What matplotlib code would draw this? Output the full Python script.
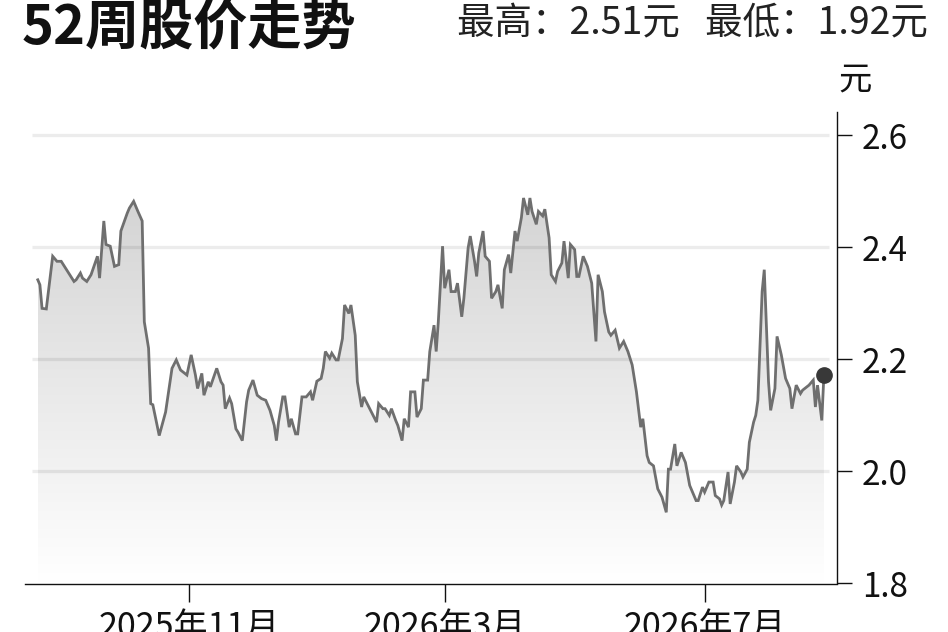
import matplotlib
matplotlib.use("Agg")
import matplotlib.pyplot as plt
import matplotlib.dates as mdates
import numpy as np
import pandas as pd
from matplotlib.colors import LinearSegmentedColormap

# ---------------- data ----------------
dates = [
    "2025-08-22", "2025-08-23", "2025-08-24", "2025-08-26", "2025-08-29", "2025-08-31",
    "2025-09-02", "2025-09-04", "2025-09-08", "2025-09-09", "2025-09-11", "2025-09-12",
    "2025-09-14", "2025-09-16", "2025-09-19", "2025-09-20", "2025-09-22", "2025-09-23",
    "2025-09-25", "2025-09-27", "2025-09-29", "2025-09-30",
    "2025-10-03", "2025-10-04", "2025-10-06", "2025-10-08", "2025-10-10", "2025-10-11",
    "2025-10-13", "2025-10-14", "2025-10-15", "2025-10-18", "2025-10-21", "2025-10-24",
    "2025-10-26", "2025-10-28", "2025-10-31",
    "2025-11-02", "2025-11-04", "2025-11-05", "2025-11-07", "2025-11-08", "2025-11-10",
    "2025-11-11", "2025-11-14", "2025-11-16", "2025-11-17", "2025-11-18", "2025-11-20",
    "2025-11-21", "2025-11-23", "2025-11-24", "2025-11-26", "2025-11-28", "2025-11-29",
    "2025-12-01", "2025-12-03", "2025-12-05", "2025-12-07", "2025-12-09", "2025-12-11",
    "2025-12-12", "2025-12-13", "2025-12-15", "2025-12-16", "2025-12-18", "2025-12-19",
    "2025-12-21", "2025-12-22", "2025-12-24", "2025-12-26", "2025-12-28", "2025-12-29",
    "2025-12-31",
    "2026-01-02", "2026-01-03", "2026-01-04", "2026-01-06", "2026-01-07", "2026-01-09",
    "2026-01-10", "2026-01-12", "2026-01-13", "2026-01-15", "2026-01-16", "2026-01-18",
    "2026-01-19", "2026-01-21", "2026-01-22", "2026-01-24", "2026-01-26", "2026-01-28",
    "2026-01-29", "2026-01-31",
    "2026-02-01", "2026-02-03", "2026-02-04", "2026-02-06", "2026-02-07", "2026-02-09",
    "2026-02-10", "2026-02-12", "2026-02-13", "2026-02-15", "2026-02-16", "2026-02-18",
    "2026-02-19", "2026-02-21", "2026-02-22", "2026-02-24", "2026-02-25", "2026-02-26",
    "2026-02-28",
    "2026-03-01", "2026-03-03", "2026-03-04", "2026-03-06", "2026-03-07", "2026-03-09",
    "2026-03-10", "2026-03-12", "2026-03-13", "2026-03-15", "2026-03-16", "2026-03-17",
    "2026-03-19", "2026-03-20", "2026-03-22", "2026-03-23", "2026-03-25", "2026-03-26",
    "2026-03-28", "2026-03-29", "2026-03-31",
    "2026-04-01", "2026-04-03", "2026-04-04", "2026-04-06", "2026-04-07", "2026-04-09",
    "2026-04-10", "2026-04-11", "2026-04-13", "2026-04-14", "2026-04-16", "2026-04-17",
    "2026-04-19", "2026-04-20", "2026-04-22", "2026-04-23", "2026-04-25", "2026-04-26",
    "2026-04-28", "2026-04-29",
    "2026-05-01", "2026-05-02", "2026-05-03", "2026-05-05", "2026-05-07", "2026-05-09",
    "2026-05-11", "2026-05-12", "2026-05-14", "2026-05-15", "2026-05-17", "2026-05-18",
    "2026-05-20", "2026-05-22", "2026-05-24", "2026-05-26", "2026-05-28", "2026-05-30",
    "2026-06-01", "2026-06-02", "2026-06-04", "2026-06-05", "2026-06-07", "2026-06-09",
    "2026-06-11", "2026-06-13", "2026-06-14", "2026-06-15", "2026-06-17", "2026-06-18",
    "2026-06-20", "2026-06-22", "2026-06-24", "2026-06-27", "2026-06-28", "2026-06-30",
    "2026-07-01", "2026-07-03", "2026-07-05", "2026-07-06", "2026-07-08", "2026-07-09",
    "2026-07-10", "2026-07-12", "2026-07-13", "2026-07-15", "2026-07-16", "2026-07-18",
    "2026-07-19", "2026-07-21", "2026-07-22", "2026-07-24", "2026-07-25", "2026-07-26",
    "2026-07-28", "2026-07-29", "2026-07-31",
    "2026-08-01", "2026-08-03", "2026-08-04", "2026-08-06", "2026-08-08", "2026-08-10",
    "2026-08-11", "2026-08-13", "2026-08-15", "2026-08-16", "2026-08-18", "2026-08-19",
    "2026-08-21", "2026-08-22", "2026-08-23", "2026-08-25", "2026-08-26",
]

prices = [
    2.342, 2.333, 2.291, 2.290, 2.384, 2.375,
    2.375, 2.363, 2.339, 2.342, 2.354, 2.345,
    2.339, 2.351, 2.384, 2.345, 2.447, 2.405,
    2.402, 2.366, 2.369, 2.429,
    2.461, 2.470, 2.482, 2.464, 2.447, 2.267,
    2.220, 2.121, 2.119, 2.064, 2.106, 2.184,
    2.199, 2.181, 2.172,
    2.208, 2.172, 2.148, 2.175, 2.136, 2.160,
    2.151, 2.184, 2.160, 2.154, 2.112, 2.131,
    2.121, 2.076, 2.070, 2.055, 2.124, 2.145,
    2.163, 2.136, 2.130, 2.127, 2.109, 2.082,
    2.055, 2.088, 2.133, 2.133, 2.079, 2.094,
    2.067, 2.067, 2.133, 2.133, 2.142, 2.127,
    2.161,
    2.166, 2.184, 2.214, 2.202, 2.211, 2.199,
    2.199, 2.237, 2.297, 2.282, 2.297, 2.243,
    2.160, 2.115, 2.133, 2.118, 2.103, 2.088,
    2.121, 2.112,
    2.112, 2.100, 2.112, 2.091, 2.082, 2.055,
    2.094, 2.079, 2.142, 2.142, 2.097, 2.112,
    2.163, 2.163, 2.214, 2.261, 2.214, 2.267,
    2.402,
    2.327, 2.360, 2.321, 2.321, 2.336, 2.276,
    2.309, 2.399, 2.420, 2.375, 2.348, 2.390,
    2.429, 2.384, 2.375, 2.309, 2.321, 2.333,
    2.291, 2.360, 2.387,
    2.354, 2.429, 2.411, 2.453, 2.488, 2.458,
    2.488, 2.464, 2.441, 2.464, 2.456, 2.468,
    2.417, 2.351, 2.339, 2.357, 2.372, 2.411,
    2.345, 2.405,
    2.396, 2.348, 2.348, 2.384, 2.366, 2.336,
    2.232, 2.351, 2.321, 2.285, 2.249, 2.243,
    2.252, 2.220, 2.232, 2.214, 2.190, 2.142,
    2.079, 2.094, 2.028, 2.016, 2.010, 1.969,
    1.954, 1.927, 2.004, 2.004, 2.049, 2.010,
    2.034, 2.016, 1.975, 1.948, 1.948, 1.972,
    1.963, 1.981, 1.981, 1.957, 1.951, 1.940,
    1.948, 1.999, 1.942, 1.981, 2.010, 1.999,
    1.990, 2.004, 2.052, 2.088, 2.100, 2.127,
    2.321, 2.360, 2.160,
    2.109, 2.148, 2.241, 2.208, 2.166, 2.148,
    2.112, 2.154, 2.139, 2.145, 2.151, 2.154,
    2.163, 2.115, 2.154, 2.091, 2.172,
]

tick_dates = ["2025-11-01", "2026-03-01", "2026-07-01"]
tick_labels = ["2025年11月", "2026年3月", "2026年7月"]
y_ticks = [1.8, 2.0, 2.2, 2.4, 2.6]
grid_values = [2.0, 2.2, 2.4, 2.6]
y_tick_labels = ["1.8", "2.0", "2.2", "2.4", "2.6"]
title_text = "52周股价走势"
stats_text = "最高：2.51元   最低：1.92元"
unit_text = "元"
x_range = ["2025-08-16", "2026-09-01"]
y_range = [1.8, 2.642]

# ---------------- figure ----------------
plt.rcParams["font.family"] = ["Noto Sans CJK SC", "DejaVu Sans"]

W, H = 948, 632
fig = plt.figure(figsize=(W / 100, H / 100), dpi=100)
fig.patch.set_facecolor("white")
ax = fig.add_axes([25 / W, (H - 583.5) / H, (836.7 - 25) / W, (583.5 - 111.7) / H])
ax.set_facecolor("none")

x = mdates.date2num(pd.to_datetime(dates).to_pydatetime())
y = np.array(prices)

# gradient area under the line
poly = ax.fill_between(x, y, y_range[0], facecolor="none", edgecolor="none")
cmap = LinearSegmentedColormap.from_list("g", ["#ffffff", "#d3d3d3"])
grad = np.linspace(0, 1, 256).reshape(-1, 1)
img = ax.imshow(grad, extent=[x[0], x[-1], y_range[0], 2.5], origin="lower",
                cmap=cmap, aspect="auto", zorder=1, interpolation="bilinear")
img.set_clip_path(poly.get_paths()[0], transform=ax.transData)

# grid lines
ax.hlines(grid_values, 0.009, 0.99, transform=ax.get_yaxis_transform(),
          colors="black", alpha=0.075, linewidth=2.4, zorder=2)

# price line and end dot
ax.plot(x, y, color="#6f6f6f", linewidth=2.0, zorder=3, solid_joinstyle="miter")
ax.plot([x[-1]], [y[-1]], "o", markersize=11, color="#383838", zorder=4)

xr = mdates.date2num(pd.to_datetime(x_range).to_pydatetime())
ax.set_xlim(xr[0], xr[1])
ax.set_ylim(*y_range)

# spines
for s in ["left", "top"]:
    ax.spines[s].set_visible(False)
for s in ["bottom", "right"]:
    ax.spines[s].set_color("#111111")
    ax.spines[s].set_linewidth(1.0)

ax.yaxis.tick_right()
ax.set_yticks(y_ticks)
ax.set_yticklabels(y_tick_labels)
ax.tick_params(axis="y", direction="out", length=11, width=1.0, pad=7,
               labelsize=24, colors="#111111")

ax.set_xticks(mdates.date2num(pd.to_datetime(tick_dates).to_pydatetime()))
ax.set_xticklabels(tick_labels)
ax.tick_params(axis="x", direction="out", length=13, width=1.0, pad=6,
               labelsize=24.5, colors="#111111")

# texts
fig.text(22 / W, 1 - 0 / H, title_text, fontsize=39, fontweight="bold",
         ha="left", va="top", color="#111111")
fig.text(928 / W, 1 - 4 / H, stats_text, fontsize=27, ha="right", va="top",
         color="#222222")
fig.text(838 / W, 1 - 62 / H, unit_text, fontsize=24, ha="left", va="top",
         color="#111111")

fig.savefig("out.png", dpi=100, facecolor="white")
